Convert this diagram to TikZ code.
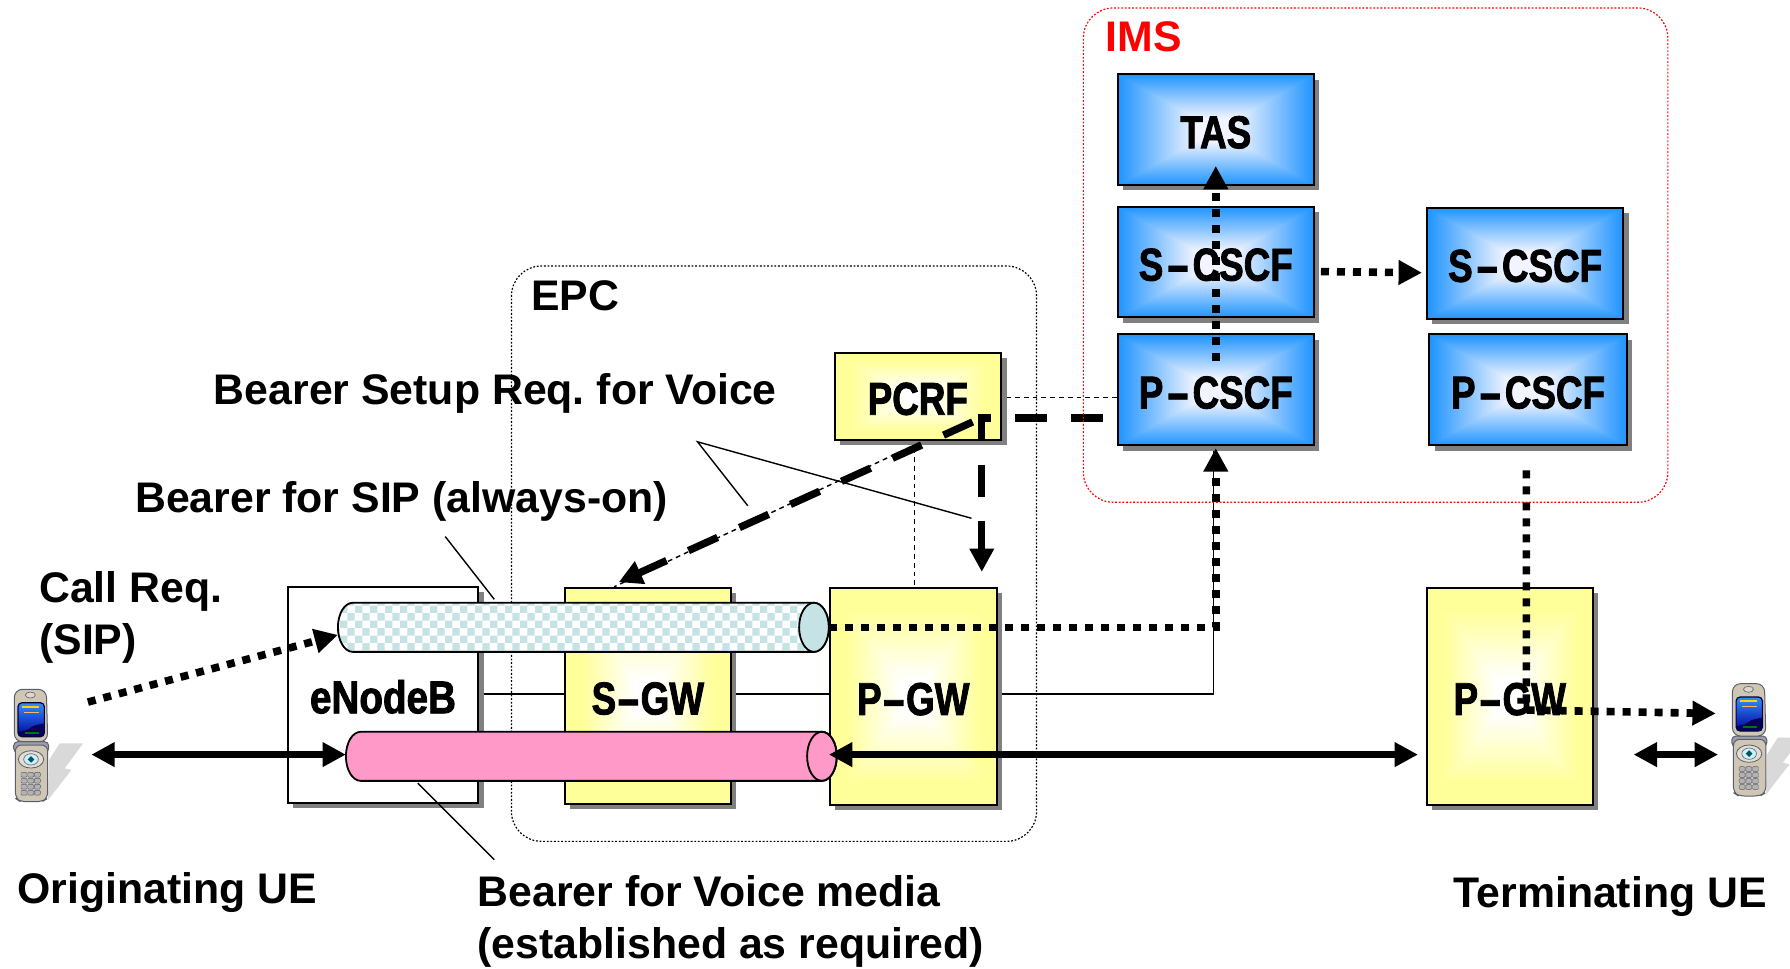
\documentclass[tikz,border=0pt]{standalone}
\usepackage{fontspec}
\usepackage{graphicx}
\setmainfont{Liberation Sans}
\newfontfamily\boxfont{Liberation Sans}[FakeStretch=0.8,BoldFeatures={FakeBold=1.8}]
\usetikzlibrary{arrows.meta,shadows,patterns,calc}
\pgfdeclarelayer{bg}
\pgfdeclarelayer{front}
\pgfsetlayers{bg,main,front}
\definecolor{cyl}{HTML}{C5E3E5}
\definecolor{pinkc}{HTML}{FF99C8}
\definecolor{tan1}{HTML}{D0C6B4}
\definecolor{edge1}{HTML}{5A5F70}
\newcommand\hy[1]{\kern#1\scalebox{1.9}[1]{-}\kern#1}
\pgfdeclarepatternformonly{bigchecker}{\pgfpointorigin}{\pgfpoint{7.4pt}{7.4pt}}{\pgfpoint{7.4pt}{7.4pt}}{%
  \pgfpathrectangle{\pgfpointorigin}{\pgfpoint{3.7pt}{3.7pt}}%
  \pgfpathrectangle{\pgfpoint{3.7pt}{3.7pt}}{\pgfpoint{3.7pt}{3.7pt}}%
  \pgfusepath{fill}}
\pgfdeclarefunctionalshading{blueglow}{\pgfpoint{-50bp}{-50bp}}{\pgfpoint{50bp}{50bp}}{}{
  abs 25 div exch abs 25 div 2 copy lt {exch} if pop
  0.2 sub 0.8 div dup 0 lt {pop 0} if dup 1 gt {pop 1} if
  dup -0.83 mul 0.95 add exch dup -0.38 mul 0.96 add exch 0.0 mul 1.0 add}
\pgfdeclarefunctionalshading{yellowglow}{\pgfpoint{-50bp}{-50bp}}{\pgfpoint{50bp}{50bp}}{}{
  abs 25 div exch abs 25 div 2 copy lt {exch} if pop
  0.15 sub 0.65 div dup 0 lt {pop 0} if dup 1 gt {pop 1} if
  1 exch 1 exch -0.4 mul 1 add}
\tikzset{
  wh/.style 2 args={minimum width=#1*0.5708pt,minimum height=#2*0.5708pt},
  netbox/.style={draw=black,line width=1pt,inner sep=0pt,
    font=\boxfont\bfseries\fontsize{23}{25}\selectfont,text height=20.8pt,text depth=2.2pt,
    drop shadow={shadow xshift=2.7pt,shadow yshift=-2.7pt,fill=black!50,opacity=1}},
  bluebox/.style={netbox,shading=blueglow},
  yellowbox/.style={netbox,shading=yellowglow},
  whitebox/.style={netbox,fill=white},
  groupbox/.style={draw,inner sep=0pt,rounded corners=15pt,line width=.6pt,dash pattern=on .9pt off .9pt},
  lbl/.style={font=\frenchspacing\bfseries\fontsize{21.4}{26}\selectfont,inner sep=0pt,align=left},
  thinline/.style={line width=.7pt},
  thindash/.style={line width=.7pt,dash pattern=on 2.4pt off 2pt},
  thickdots/.style={line width=3.8pt,dash pattern=on 4pt off 4pt},
  thickdash/.style={line width=3.7pt,dash pattern=on 16pt off 12pt},
  thicksolid/.style={line width=3.6pt},
  >={Triangle[length=11.7pt,width=11.7pt]},
  phone/.pic={
    \fill[black!15] (103,335)--(173,245)--(153,240)--(208,165)--(138,165)--(106,215)--cycle;
    \draw[edge1,fill=edge1!60,line width=.5pt,rounded corners=2pt] (0,160) rectangle (105,192);
    \draw[edge1,fill=tan1,line width=.5pt,rounded corners=3pt] (5,170) -- (102,170) -- (102,330) -- (85,340) -- (20,340) -- (5,330) -- cycle;
    \draw[edge1,fill=tan1,line width=.5pt,rounded corners=4pt] (2,3) -- (98,3) -- (102,160) -- (2,160) -- cycle;
    \draw[edge1,fill=tan1!70!white,line width=.3pt] (50,20) ellipse [x radius=15,y radius=9];
    \draw[black!80!blue,top color=blue!55!cyan!80!white,bottom color=blue!60!black,line width=.6pt,rounded corners=2pt] (13,43) rectangle (92,145);
    \fill[blue!35!black] (15,143) -- (15,130) -- (40,125) -- (60,112) -- (90,105) -- (90,143) -- cycle;
    \fill[yellow!70!orange] (24,53) rectangle (76,58);
    \fill[orange!60!white] (30,71) rectangle (76,74);
    \fill[green!45!black] (33,131) rectangle (76,137);
    \draw[edge1,fill=tan1!60!white,line width=.4pt] (52,213) ellipse [x radius=38,y radius=26];
    \draw[edge1,fill=white!80!cyan,line width=.3pt] (52,213) ellipse [x radius=22,y radius=17];
    \fill[teal!70!black] (52,203) -- (62,213) -- (52,223) -- (42,213) -- cycle;
    \foreach \kx in {22,42,62}{\foreach \ky in {252,270,288,306}{
      \draw[edge1,fill=black!30,line width=.2pt,rounded corners=.5pt] (\kx,\ky) rectangle +(18,14);}}
  }
}
\begin{document}
\begin{tikzpicture}[x=0.5708pt,y=-0.5708pt]
\useasboundingbox (0,0) rectangle (1568,848);
% groups
\begin{pgfonlayer}{bg}
\node[groupbox,wh={460}{504}] (epc) at (678,485) {};
\end{pgfonlayer}
\begin{pgfonlayer}{front}
\node[groupbox,draw=red,wh={512}{433}] (ims) at (1205,223.5) {};
\end{pgfonlayer}
% boxes
\node[bluebox,wh={172}{97}] (tas) at (1065,113.5) {TAS};
\node[bluebox,wh={172}{97}] (scscf) at (1065,229.5) {S\hy{1.5pt}CSCF};
\node[bluebox,wh={172}{97}] (pcscf) at (1065,341.5) {P\hy{1.5pt}CSCF};
\node[bluebox,wh={172}{97}] (scscfb) at (1336,230.5) {S\hy{1.5pt}CSCF};
\node[bluebox,wh={173}{97}] (pcscfb) at (1338.5,341.5) {P\hy{1.5pt}CSCF};
\node[yellowbox,wh={146}{76}] (pcrf) at (804,347) {PCRF};
\node[whitebox,wh={167}{189}] (enb) at (335.5,608.5) {\addfontfeature{FakeStretch=0.84}eNodeB};
\node[yellowbox,wh={145}{189}] (sgw) at (567.5,609.5) {S\hy{.3pt}GW};
\node[yellowbox,wh={146}{190}] (pgw) at (800,610) {P\hy{.3pt}GW};
\node[yellowbox,wh={145}{190}] (pgwb) at (1322.5,610) {P\hy{.3pt}GW};
% thin links
\begin{pgfonlayer}{bg}
\coordinate (sigy) at (0,608);
\coordinate (elbowthin) at (1063,608);
\draw[thinline] (enb.east |- sigy) -- (sgw.west |- sigy);
\draw[thinline] (sgw.east |- sigy) -- (pgw.west |- sigy);
\draw[thinline] (pgw.east |- sigy) -- (elbowthin) -- (elbowthin |- pcscf.south);
\coordinate (pcrfdown) at (801,385);
\draw[thindash] (pcrfdown) -- (pcrfdown |- pgw.north);
\coordinate (pcrfright) at (pcrf.east |- 0,348);
\draw[thindash] ([xshift=2pt]pcrfright) -- (pcscf.west |- pcrfright);
\end{pgfonlayer}
\coordinate (diagstart) at (805,388);
\coordinate (diagend) at (538,514);
\draw[thindash] (diagstart) -- (diagend);
% callouts
\coordinate (bsA) at (611,387);
\coordinate (bsB) at (655,443);
\coordinate (bsC) at (851,454);
\draw[thinline] (bsB) -- (bsA) -- (bsC);
\coordinate (sipA) at (390,470);
\coordinate (sipB) at (433,525);
\draw[thinline] (sipA) -- (sipB);
\coordinate (voiA) at (366,686);
\coordinate (voiB) at (433,753);
\draw[thinline] (voiA) -- (voiB);
% cylinders
\coordinate (sipL) at (296,549.5);
\coordinate (sipR) at (726,549.5);
\coordinate (voiL) at (303,662.5);
\coordinate (voiR) at (733,662.5);
\fill[white] (713,528) -- (309,528) arc[start angle=270,end angle=90,x radius=13,y radius=21.5] -- (713,571) arc[start angle=90,end angle=-90,x radius=13,y radius=21.5] -- cycle;
\draw[line width=.9pt,pattern=bigchecker,pattern color=cyl] (713,528) -- (309,528) arc[start angle=270,end angle=90,x radius=13,y radius=21.5] -- (713,571) arc[start angle=90,end angle=-90,x radius=13,y radius=21.5] -- cycle;
\draw[line width=.9pt,fill=cyl] (713,549.5) ellipse [x radius=13,y radius=21.5];
\draw[line width=.9pt,fill=pinkc] (720,641) -- (316,641) arc[start angle=270,end angle=90,x radius=13,y radius=21.5] -- (720,684) arc[start angle=90,end angle=-90,x radius=13,y radius=21.5] -- cycle;
\draw[line width=.9pt] (720,662.5) ellipse [x radius=13,y radius=21.5];
% phones
\pic[scale=0.292] (uea) at (12,603) {phone};
\pic[scale=0.292] (ueb) at (1517,598) {phone};
\coordinate (uearight) at (80,661);
\coordinate (uebleft) at (1431,661);
\coordinate (uebin) at (1505,661);
\coordinate (uesig) at (77,615);
\coordinate (uebsig) at (1503,625);
% signalling and media
\draw[thickdots,->] (uesig) -- ([yshift=-3.8pt]sipL);
\draw[thicksolid,<->] (uearight) -- (voiL |- uearight);
\draw[thicksolid,<->] (pgw.west |- uearight) -- ([xshift=-4pt]pgwb.west |- uearight);
\draw[thicksolid,<->] (uebleft) -- (uebin);
\draw[thickdots,->] (sipR) -- (sipR -| pcscf.south) -- ([yshift=-1pt]pcscf.south);
\draw[thickdots,->] ([yshift=-14pt]pcscf.north) -- ([yshift=10pt]tas.south);
\draw[thickdots,->] ([xshift=3pt,yshift=-4.8pt]scscf.east) -- ([xshift=-2pt,yshift=-4.8pt]scscfb.west);
\coordinate (pcsout) at (1337,412);
\draw[thickdots,->] (pcsout) -- (1337,622) -- (uebsig);
% bearer setup
\coordinate (pcrfelbow) at (860,366);
\coordinate (pcsin) at (966,366);
\coordinate (pgwtop) at (860,501);
\draw[thickdash,->] (pcsin) -- (pcrfelbow) -- (pgwtop);
\draw[line width=3.7pt,dash pattern=on 16pt off 12pt,dash phase=23pt,->] (pcrfelbow) -- (542,510);
% labels
\node[lbl,anchor=base west] (timS) at (968,45) {\textcolor{red}{IMS}};
\node[lbl,anchor=base west] (tepc) at (465,272) {EPC};
\node[lbl,anchor=base west] (tbs) at (187,354) {Bearer Setup Req. for Voice};
\node[lbl,anchor=base west] (tsip) at (118,449) {Bearer for SIP (always-on)};
\node[lbl,anchor=west] (tcall) at (34,541) {Call Req.\\(SIP)};
\node[lbl,anchor=base west] (tor) at (15,791) {Originating UE};
\node[lbl,anchor=west] (tvoi) at (418,807.5) {Bearer for Voice media\\(established as required)};
\node[lbl,anchor=base west] (tter) at (1273,795) {Terminating UE};
\end{tikzpicture}
\end{document}
